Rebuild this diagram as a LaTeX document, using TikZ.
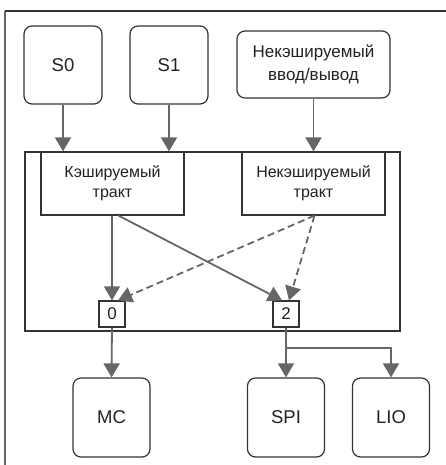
\documentclass[tikz,border=0pt]{standalone}
\usepackage{fontspec}
\setmainfont{Liberation Sans}
\usetikzlibrary{arrows.meta,calc}
\definecolor{lg}{HTML}{666666}
\definecolor{bd}{HTML}{333333}
\definecolor{tx}{HTML}{222222}
\begin{document}
\begin{tikzpicture}[x=1pt,y=-1pt,
  rbox/.style={draw=bd, text=tx, rounded corners=8pt, line width=1.2pt, align=center, inner sep=0pt, font=\fontsize{18.5}{23}\selectfont},
  sbox/.style={draw=bd, text=tx, line width=1.2pt, align=center, inner sep=0pt, font=\fontsize{16}{20}\selectfont},
  pbox/.style={draw=bd, text=tx, fill=white, line width=1.2pt, inner sep=0pt, minimum width=26pt, minimum height=26pt, font=\fontsize{17}{20}\selectfont},
  conn/.style={draw=lg, line width=1.8pt, -{Triangle[length=14pt,width=16pt]}},
  dconn/.style={conn, dash pattern=on 7pt off 4pt}]
\useasboundingbox (0,0) rectangle (446,465);
\clip (0,0) rectangle (446,465);
\draw[lg, line width=1.5pt] (5,480) -- (5,11);
\draw[bd, line width=1.2pt] (5,11) -- (460,11);

\node[rbox, minimum width=78pt, minimum height=78pt] (s0) at (63,65) {S0};
\node[rbox, minimum width=78pt, minimum height=78pt] (s1) at (169,65) {S1};
\node[rbox, minimum width=153pt, minimum height=67pt, font=\fontsize{17}{23}\selectfont] (io) at (313.5,64.5) {Некэшируемый\\ввод/вывод};

\node[draw=bd, line width=1.2pt, minimum width=375pt, minimum height=179pt, inner sep=0pt] (big) at (212.5,241.5) {};
\node[sbox, minimum width=143pt, minimum height=63pt] (cp) at (112.5,183.5) {Кэшируемый\\тракт};
\node[sbox, minimum width=143pt, minimum height=63pt] (up) at (313.5,183.5) {Некэшируемый\\тракт};
\node[pbox] (p0) at (112,314) {0};
\node[pbox] (p2) at (286,314) {2};

\node[rbox, minimum width=77pt, minimum height=79pt] (mc) at (111.5,417.5) {MC};
\node[rbox, minimum width=77pt, minimum height=79pt] (spi) at (286,417.5) {SPI};
\node[rbox, minimum width=77pt, minimum height=79pt] (lio) at (391,417.5) {LIO};

\draw[conn] (s0.south) -- (s0.south |- cp.north);
\draw[conn] (s1.south) -- (s1.south |- cp.north);
\draw[conn] (io.south) -- (up.north);

\draw[conn] (p0.north |- cp.south) -- (p0.north);
\draw[conn] ($(cp.south)+(6,0)$) -- ($(p2.north)+(-4,0)$);
\draw[dconn] ($(up.south)+(1,0)$) -- ($(p0.north)+(6,0)$);
\draw[dconn] ($(up.south)+(1,0)$) -- ($(p2.north)+(3,0)$);

\draw[conn] (p0.south) -- (mc.north);
\draw[conn] (p2.south) -- (spi.north);
\coordinate (br) at (286,348);
\draw[conn] (br) -| (lio.north);
\end{tikzpicture}
\end{document}
